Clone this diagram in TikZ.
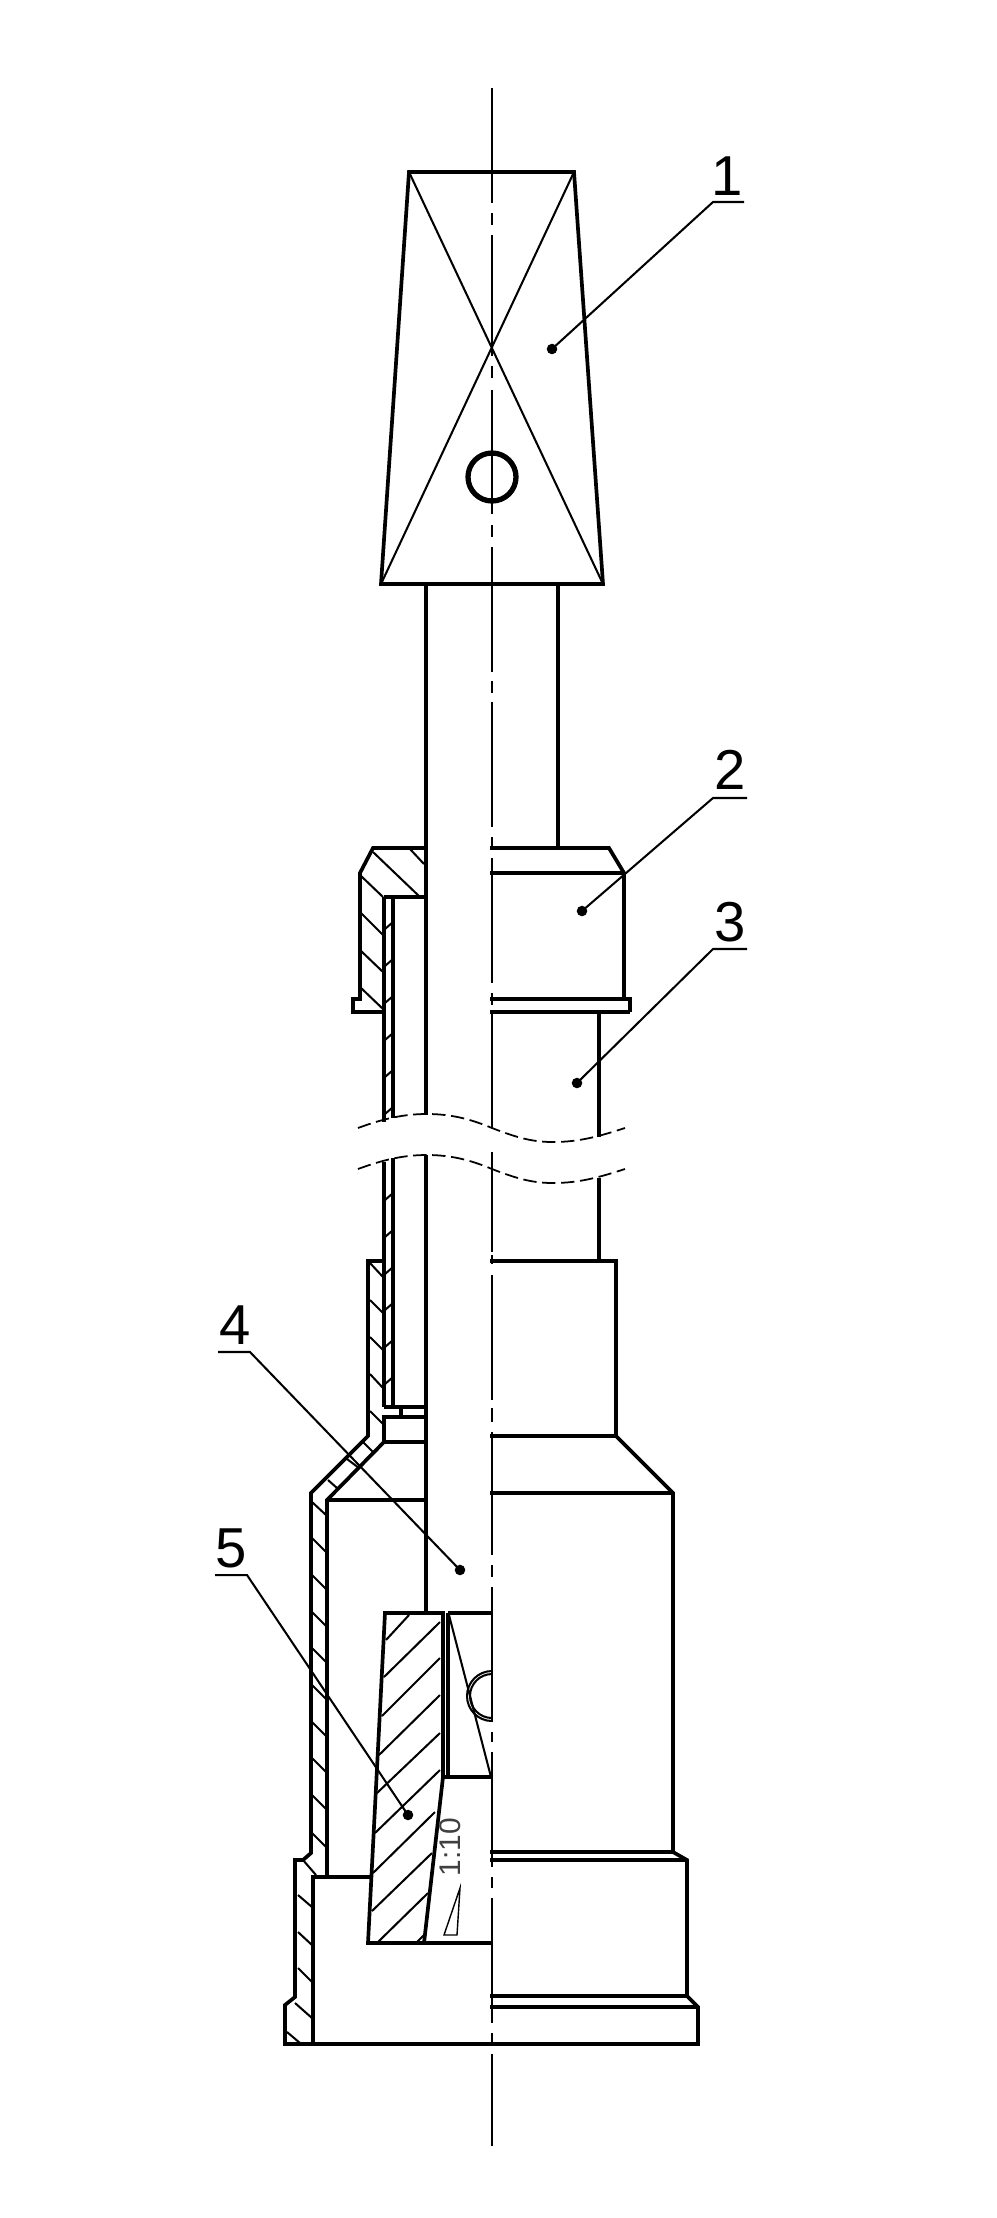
\documentclass[tikz,border=0pt]{standalone}
\usepackage{fontspec}
\setmainfont{Liberation Sans}
\tikzset{
  outline/.style={line width=1.05pt, line join=miter},
  heavyline/.style={line width=1.4pt},
  thinline/.style={line width=0.58pt},
  hatchline/.style={line width=0.58pt},
  axisline/.style={line width=0.62pt},
  breakline/.style={line width=0.5pt, dash pattern=on 3.8pt off 1.6pt},
  leaderdot/.style={circle, fill=black, inner sep=0pt, minimum size=3pt},
  partnum/.style={inner sep=0pt, font=\fontsize{16}{16}\selectfont},
}
\begin{document}
\begin{tikzpicture}[x=0.01cm, y=-0.01cm]
    \useasboundingbox (0,0) rectangle (996,2218);

    % Centre line
    \draw[axisline] (492,88) -- (492,203) (492,213) -- (492,225) (492,235) -- (492,356)
        (492,366) -- (492,378) (492,390) -- (492,514) (492,525) -- (492,537)
        (492,547) -- (492,672) (492,681) -- (492,693) (492,702) -- (492,827)
        (492,837) -- (492,848) (492,858) -- (492,983) (492,993) -- (492,1005)
        (492,1014) -- (492,1128) (492,1152) -- (492,1252) (492,1255) -- (492,1264)
        (492,1275) -- (492,1400) (492,1408) -- (492,1422) (492,1432) -- (492,1555)
        (492,1565) -- (492,1577) (492,1587) -- (492,1722) (492,1732) -- (492,1742)
        (492,1752) -- (492,1867) (492,1877) -- (492,1888) (492,1898) -- (492,2023)
        (492,2033) -- (492,2044) (492,2054) -- (492,2146);

    % Tapered head
    \draw[outline] (409,172) -- (574,172) -- (603,584) -- (381,584) -- cycle;
    \draw[thinline] (409,172) -- (603,584) (574,172) -- (381,584);
    \draw[line width=1.5pt] (492,477) circle (24);

    % Shaft
    \draw[outline] (426,584) -- (426,1115) (426,1155) -- (426,1613);
    \draw[outline] (558,584) -- (558,848);

    % Nut, right half
    \draw[outline] (490,848) -- (609,848) -- (624,873) -- (624,999);
    \draw[outline] (490,873) -- (624,873);
    \draw[outline] (490,999) -- (630,999) -- (630,1012);
    \draw[heavyline] (490,1012) -- (630,1012);

    % Nut, left half in section
    \draw[outline] (426,848) -- (373,848) -- (360,873) -- (360,999) -- (353,999) -- (353,1012) -- (384,1012);
    \draw[outline] (426,897) -- (384,897);
    \draw[hatchline] (373,852) -- (420,897) (410,849) -- (424,864) (360,875) -- (383,897)
        (360,912) -- (383,935) (360,950) -- (383,972) (360,987) -- (383,1009);

    % Tube
    \draw[outline] (384,897) -- (384,1122) (384,1162) -- (384,1407);
    \draw[outline] (393,897) -- (393,1118) (393,1158) -- (393,1407);
    \draw[outline] (384,1407) -- (426,1407);
    \draw[outline] (401,1407) -- (401,1417);
    \draw[outline] (599,1012) -- (599,1137) (599,1178) -- (599,1261);
    \draw[hatchline] (385,929) -- (393,922) (385,966) -- (393,959) (385,1003) -- (393,996)
        (385,1040) -- (393,1033) (385,1077) -- (393,1070) (385,1114) -- (393,1107)
        (385,1200) -- (393,1193) (385,1237) -- (393,1230) (385,1274) -- (393,1267)
        (385,1310) -- (393,1303) (385,1347) -- (393,1340) (385,1384) -- (393,1377);

    % Break lines
    \draw[breakline] (358,1128) .. controls (385,1118) and (405,1114) .. (427,1114)
        .. controls (455,1114) and (475,1121) .. (492,1128)
        .. controls (520,1139) and (535,1142) .. (553,1142)
        .. controls (580,1142) and (600,1136) .. (625,1128);
    \draw[breakline] (358,1169) .. controls (385,1159) and (405,1155) .. (427,1155)
        .. controls (455,1155) and (475,1162) .. (492,1169)
        .. controls (520,1180) and (535,1183) .. (553,1183)
        .. controls (580,1183) and (600,1177) .. (625,1169);

    % Body, right half
    \draw[outline] (490,1261) -- (616,1261) -- (616,1436) -- (673,1493) -- (673,1852) -- (687,1860)
        -- (687,1996) -- (698,2007) -- (698,2044) -- (285,2044) -- (285,2005) -- (295,1997)
        -- (295,1860) -- (303,1860) -- (311,1853) -- (311,1493) -- (368,1436) -- (368,1261) -- (384,1261);
    \draw[outline] (490,1436) -- (616,1436);
    \draw[outline] (490,1493) -- (673,1493);
    \draw[outline] (490,1852) -- (673,1852);
    \draw[outline] (490,1860) -- (687,1860);
    \draw[outline] (490,1996) -- (687,1996);
    \draw[outline] (490,2007) -- (698,2007);

    % Body, left half in section
    \draw[outline] (426,1417) -- (384,1417) -- (384,1442) -- (327,1500) -- (327,1877);
    \draw[outline] (384,1442) -- (426,1442);
    \draw[outline] (327,1500) -- (426,1500);
    \draw[outline] (372,1877) -- (313,1877) -- (313,2044);
    \draw[hatchline] (370,1263) -- (383,1277) (370,1300) -- (383,1313) (370,1337) -- (383,1350)
        (370,1374) -- (383,1388) (370,1411) -- (383,1424) (363,1442) -- (373,1452)
        (347,1459) -- (359,1468) (328,1480) -- (337,1488) (312,1502) -- (326,1515)
        (312,1538) -- (326,1552) (312,1575) -- (326,1589) (312,1612) -- (326,1626)
        (312,1648) -- (326,1662) (312,1685) -- (326,1699) (312,1722) -- (326,1736)
        (312,1758) -- (326,1772) (312,1795) -- (326,1809) (312,1833) -- (326,1847)
        (303,1860) -- (316,1875) (298,1895) -- (312,1907) (298,1932) -- (312,1945)
        (298,1968) -- (312,1982) (295,2003) -- (312,2018) (287,2032) -- (300,2043);

    % Taper sleeve in section
    \draw[outline] (385,1613) -- (443,1613) -- (443,1777) -- (424,1943) -- (368,1943) -- cycle;
    \draw[hatchline] (386,1640) -- (409,1615) (384,1677) -- (440,1622) (382,1716) -- (440,1658)
        (379,1755) -- (440,1695) (377,1793) -- (440,1733) (375,1833) -- (440,1770)
        (373,1873) -- (435,1812) (372,1911) -- (432,1853) (378,1942) -- (428,1893)
        (417,1942) -- (424,1935);

    % Wedge, cross hole and taper mark
    \draw[outline] (448,1613) -- (448,1777);
    \draw[outline] (448,1613) -- (492,1613);
    \draw[outline] (443,1777) -- (492,1777);
    \draw[outline] (424,1943) -- (492,1943);
    \draw[thinline] (449,1615) -- (491,1777);
    \draw[thinline] (492,1721) arc (90:270:25);
    \draw[thinline] (492,1718) arc (90:270:22);
    \node[font=\fontsize{8.5}{8.5}\selectfont, text=black!75, inner sep=0pt, rotate=90] (ratio) at (450,1847) {1:10};
    \draw[line width=0.4pt] (460,1888) -- (444,1935) -- (457,1935) -- cycle;

    % Part numbers and leaders
    \node[partnum] (numa) at (727,176) {1};
    \node[partnum] (numb) at (730,770) {2};
    \node[partnum] (numc) at (730,922) {3};
    \node[partnum] (numd) at (235,1325) {4};
    \node[partnum] (nume) at (231,1548) {5};
    \node[leaderdot] (dota) at (552,349) {};
    \node[leaderdot] (dotb) at (582,911) {};
    \node[leaderdot] (dotc) at (577,1083) {};
    \node[leaderdot] (dotd) at (460,1570) {};
    \node[leaderdot] (dote) at (408,1815) {};
    \coordinate (elba) at (713,202);
    \coordinate (enda) at (744,202);
    \coordinate (elbb) at (713,798);
    \coordinate (endb) at (747,798);
    \coordinate (elbc) at (713,949);
    \coordinate (endc) at (747,949);
    \coordinate (elbd) at (250,1352);
    \coordinate (endd) at (218,1352);
    \coordinate (elbe) at (247,1575);
    \coordinate (ende) at (215,1575);
    \draw[thinline] (dota.center) -- (elba) -- (enda);
    \draw[thinline] (dotb.center) -- (elbb) -- (endb);
    \draw[thinline] (dotc.center) -- (elbc) -- (endc);
    \draw[thinline] (dotd.center) -- (elbd) -- (endd);
    \draw[thinline] (dote.center) -- (elbe) -- (ende);
\end{tikzpicture}
\end{document}
